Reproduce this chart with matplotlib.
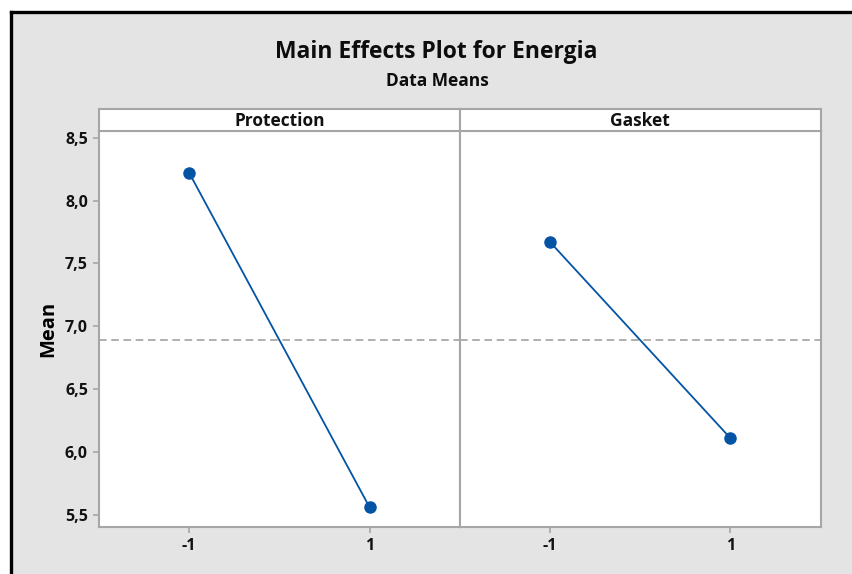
import matplotlib
matplotlib.use("Agg")
import matplotlib.pyplot as plt
from matplotlib.patches import Rectangle
from matplotlib.lines import Line2D
import numpy as np

# Factor levels and mean responses
factors = ["Protection", "Gasket"]
levels = [-1, 1]
level_labels = ["-1", "1"]
protection_means = [8.22, 5.56]
gasket_means = [7.67, 6.11]
series = [protection_means, gasket_means]
grand_mean = np.mean(protection_means + gasket_means)

y_ticks = [5.5, 6.0, 6.5, 7.0, 7.5, 8.0, 8.5]
y_tick_labels = ["5,5", "6,0", "6,5", "7,0", "7,5", "8,0", "8,5"]

plt.rcParams["font.family"] = ["Open Sans", "DejaVu Sans"]

W, H = 853, 574
fig = plt.figure(figsize=(W / 100, H / 100), dpi=100, facecolor="white")

# gray frame background with black top/left rule
bg = "#e4e4e4"
fig.patches.append(Rectangle((11 / W, 0), 1 - 11 / W, 1 - 11.5 / H,
                             transform=fig.transFigure, facecolor=bg,
                             edgecolor="none", zorder=-10))
fig.lines.append(Line2D([11 / W, 1], [1 - 11.5 / H, 1 - 11.5 / H],
                        transform=fig.transFigure, color="black", lw=2.4,
                        zorder=-9))
fig.lines.append(Line2D([11 / W, 11 / W], [0, 1 - 11.5 / H],
                        transform=fig.transFigure, color="black", lw=2.4,
                        zorder=-9))

fig.text(436 / W, 1 - 52 / H, "Main Effects Plot for Energia", ha="center",
         va="center", fontsize=16.5, fontweight="bold", color="#0d0d0d")
fig.text(437 / W, 1 - 81 / H, "Data Means", ha="center", va="center",
         fontsize=12.5, fontweight="bold", color="#0d0d0d")

left, right = 99 / W, 820.7 / W
bottom, top = 1 - 527.3 / H, 1 - 131 / H
strip_top = 1 - 109 / H
pw = (right - left) / 2
spine_c = "#a6a6a6"
line_c = "#0454a6"

axes = []
for i, (name, vals) in enumerate(zip(factors, series)):
    ax = fig.add_axes([left + i * pw, bottom, pw, top - bottom])
    ax.set_facecolor("white")
    ax.plot(levels, vals, color=line_c, lw=1.3, marker="o", markersize=8,
            markerfacecolor=line_c, markeredgecolor=line_c, zorder=3)
    ax.axhline(grand_mean, color="#9a9a9a", lw=1.1, ls=(0, (5, 3)), zorder=2)
    ax.set_xlim(-2, 2)
    ax.set_ylim(5.402, 8.553)
    ax.set_xticks(levels)
    ax.set_xticklabels(level_labels, fontsize=11.5, fontweight="bold")
    ax.set_yticks(y_ticks)
    if i == 0:
        ax.set_yticklabels(y_tick_labels, fontsize=11.5, fontweight="bold")
        ax.set_ylabel("Mean", fontsize=14.5, fontweight="bold", labelpad=5)
    else:
        ax.tick_params(axis="y", left=False, labelleft=False)
    for s in ax.spines.values():
        s.set_color(spine_c)
        s.set_linewidth(1.5)
    ax.tick_params(direction="out", length=4, width=1.2, color=spine_c,
                   labelcolor="#111111", pad=4)
    axes.append(ax)

    # strip header
    sax = fig.add_axes([left + i * pw, top, pw, strip_top - top])
    sax.set_facecolor("white")
    sax.set_xticks([])
    sax.set_yticks([])
    for s in sax.spines.values():
        s.set_color(spine_c)
        s.set_linewidth(1.5)
    sax.text(0.5, 0.45, name, ha="center", va="center", fontsize=12.5,
             fontweight="bold", color="#111111", transform=sax.transAxes)

fig.savefig("out.png", dpi=100, facecolor="white")
